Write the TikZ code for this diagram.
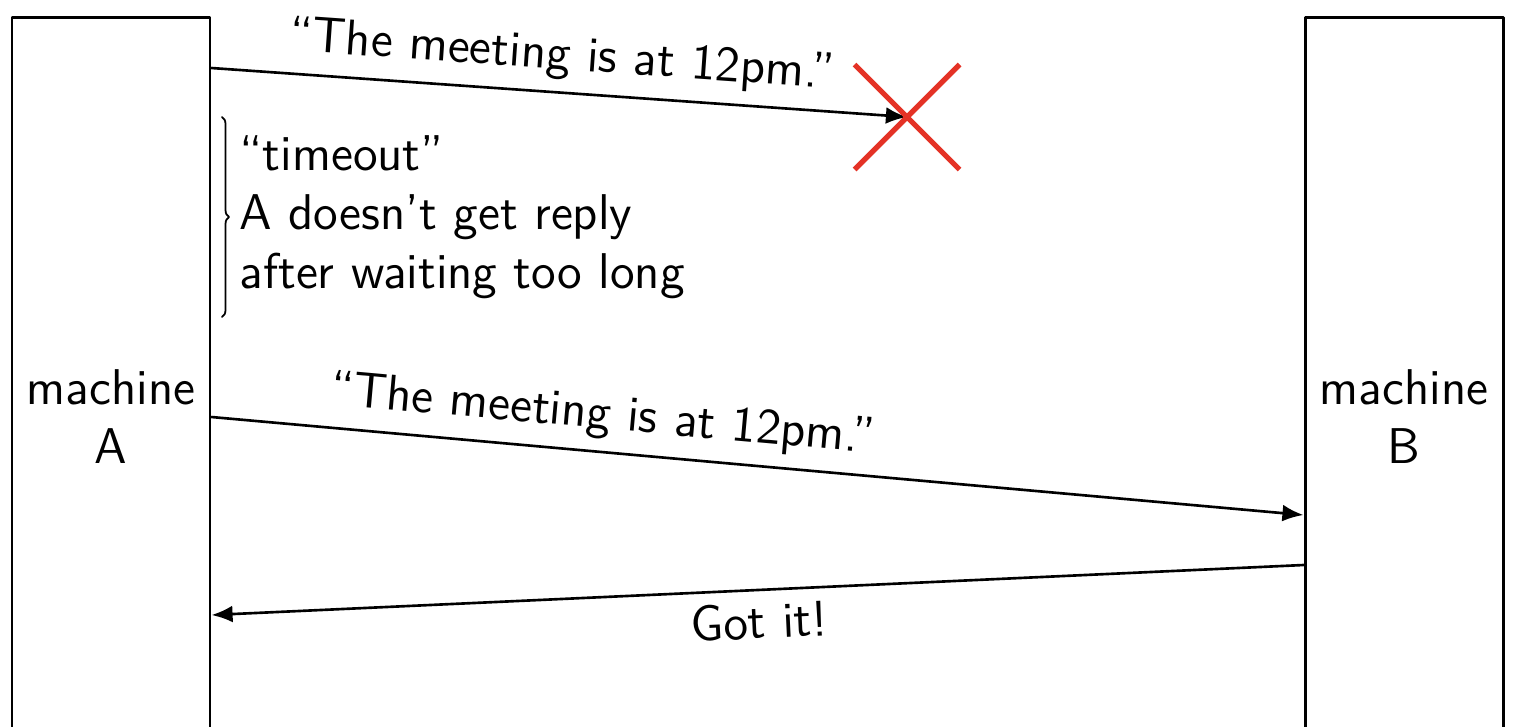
\documentclass[tikz,border=0pt]{standalone}
\usepackage{tikz}
\usetikzlibrary{arrows.meta,decorations.pathreplacing}
\definecolor{lostred}{RGB}{228,50,38}

\begin{document}
\begin{tikzpicture}[line cap=round,line join=round,>={Latex[length=6pt,width=4.8pt]},
  font=\fontsize{14.3}{16.8}\selectfont\sffamily,
  machine/.style={draw,line width=0.85pt,minimum width=1.98cm,minimum height=8cm,align=center,inner sep=0pt},
  msg/.style={->,line width=0.75pt},
  lostmark/.style={draw=lostred,line width=1.5pt,line cap=butt},
  bracemark/.style={decorate,decoration={brace,amplitude=2pt},line width=0.5pt}]
\useasboundingbox (0,0) rectangle (15.16,7.26);
\clip (0,0) rectangle (15.16,7.26);
\node[machine] (A) at (1.11,3.09) {machine\\A};
\node[machine] (B) at (14.04,3.09) {machine\\B};
\coordinate (lost) at (9.07,6.09);
% first message gets lost
\draw[msg] ([yshift=3.49cm]A.east) -- (lost)
  node[midway,above,sloped] (m1) {``The meeting is at 12pm.''};
\draw[lostmark] (lost) +(-0.525,0.525) -- +(0.525,-0.525);
\draw[lostmark] (lost) +(-0.525,-0.525) -- +(0.525,0.525);
% timeout
\node[anchor=west,align=left,inner xsep=0pt,inner ysep=5pt] (wait) at (2.39,5.09)
  {``timeout''\\A doesn't get reply\\after waiting too long};
\draw[bracemark] ([xshift=-1.7mm]wait.north west) -- ([xshift=-1.7mm]wait.south west);
% resend and reply
\draw[msg] (A.east) -- ([yshift=-0.98cm]B.west)
  node[pos=0.355,above,sloped] (m2) {``The meeting is at 12pm.''};
\draw[msg] ([yshift=-1.48cm]B.west) -- ([yshift=-1.98cm]A.east)
  node[midway,below,sloped] (m3) {Got it!};
\end{tikzpicture}
\end{document}
